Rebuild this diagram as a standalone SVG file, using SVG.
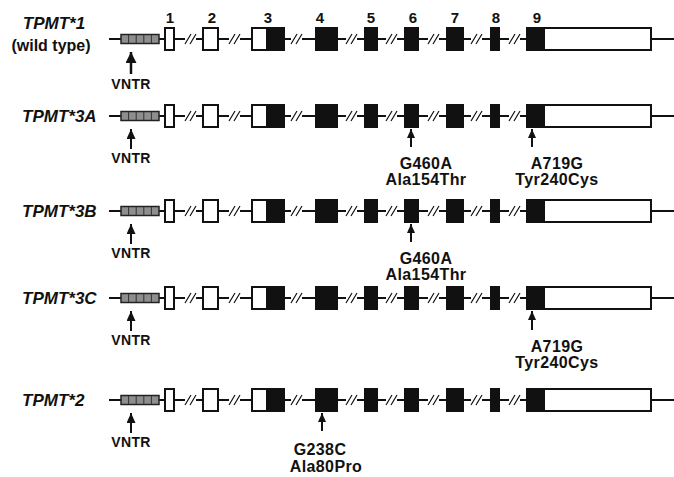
<svg xmlns="http://www.w3.org/2000/svg" xmlns:xlink="http://www.w3.org/1999/xlink" width="674" height="477" viewBox="0 0 674 477">
<style>
text{font-family:"Liberation Sans",Arial,sans-serif;font-weight:bold;fill:#111}
.lbl{font-size:17px;font-style:italic}
.wt{font-size:16px}
.num{font-size:15px;text-anchor:middle}
.vn{font-size:14px;text-anchor:middle;letter-spacing:0.3px}
.mut{font-size:16px;text-anchor:middle;letter-spacing:0.4px}
.bb{fill:none;stroke:#111;stroke-width:2}
.sl{fill:none;stroke:#111;stroke-width:1.2}
.wx{fill:#fff;stroke:#111;stroke-width:2}
.bx{fill:#111;stroke:#111;stroke-width:2}
.vntr{fill:#8e8e8e;stroke:#222;stroke-width:1.5}
.dv{stroke:#333;stroke-width:1}
.arr{stroke:#111;stroke-width:2;fill:none}
.arrb{stroke:#111;stroke-width:2.5;fill:none}
</style>
<defs>
<marker id="ahb" markerUnits="userSpaceOnUse" markerWidth="11" markerHeight="11" viewBox="0 0 10 10" refX="10" refY="5" orient="auto-start-reverse">
<path d="M0,0 L10,5 L0,10 Z" fill="#111"/>
</marker>
<marker id="ah" markerUnits="userSpaceOnUse" markerWidth="10" markerHeight="9" viewBox="0 0 10 10" refX="10" refY="5" orient="auto-start-reverse" preserveAspectRatio="none">
<path d="M0,0 L10,5 L0,10 Z" fill="#111"/>
</marker>
<marker id="ahs" markerUnits="userSpaceOnUse" markerWidth="9" markerHeight="8" viewBox="0 0 10 10" refX="10" refY="5" orient="auto-start-reverse" preserveAspectRatio="none">
<path d="M0,0 L10,5 L0,10 Z" fill="#111"/>
</marker>
<g id="gene">
<path class="bb" d="M109,0 H185 M196,0 H229 M240,0 H291 M302,0 H346 M357,0 H386 M397,0 H428 M439,0 H471 M482,0 H509 M520,0 H674"/>
<path class="sl" d="M185,5 L191,-5 M190,5 L196,-5 M229,5 L235,-5 M234,5 L240,-5 M291,5 L297,-5 M296,5 L302,-5 M346,5 L352,-5 M351,5 L357,-5 M386,5 L392,-5 M391,5 L397,-5 M428,5 L434,-5 M433,5 L439,-5 M471,5 L477,-5 M476,5 L482,-5 M509,5 L515,-5 M514,5 L520,-5"/>
<rect class="vntr" x="121" y="-4.5" width="38" height="9"/>
<path class="dv" d="M128.6,-4 V4 M136.2,-4 V4 M143.8,-4 V4 M151.4,-4 V4"/>
<rect class="wx" x="165" y="-11" width="9" height="22"/>
<rect class="wx" x="203" y="-11" width="15" height="22"/>
<rect class="wx" x="252" y="-11" width="32" height="22"/>
<rect class="bx" x="267" y="-11" width="17" height="22"/>
<rect class="bx" x="316" y="-11" width="21" height="22"/>
<rect class="bx" x="365" y="-11" width="12" height="22"/>
<rect class="bx" x="405" y="-11" width="13" height="22"/>
<rect class="bx" x="447" y="-11" width="16" height="22"/>
<rect class="bx" x="491" y="-11" width="8" height="22"/>
<rect class="wx" x="527" y="-11" width="124" height="22"/>
<rect class="bx" x="527" y="-11" width="17" height="22"/>
</g>
</defs>

<g id="exon-numbers">
<text class="num" x="170" y="23">1</text>
<text class="num" x="212" y="23">2</text>
<text class="num" x="268" y="23">3</text>
<text class="num" x="320" y="23">4</text>
<text class="num" x="371" y="23">5</text>
<text class="num" x="413" y="23">6</text>
<text class="num" x="455" y="23">7</text>
<text class="num" x="496" y="23">8</text>
<text class="num" x="537" y="23">9</text>
</g>

<g id="row-tpmt1">
<text class="lbl" x="54" y="29" text-anchor="middle">TPMT*1</text>
<text class="wt" x="51" y="51" text-anchor="middle">(wild type)</text>
<use xlink:href="#gene" transform="translate(0,39)"/>
</g>
<g id="row-tpmt3a">
<text class="lbl" x="22" y="122">TPMT*3A</text>
<use xlink:href="#gene" transform="translate(0,116)"/>
</g>
<g id="row-tpmt3b">
<text class="lbl" x="22" y="217">TPMT*3B</text>
<use xlink:href="#gene" transform="translate(0,211)"/>
</g>
<g id="row-tpmt3c">
<text class="lbl" x="22" y="304">TPMT*3C</text>
<use xlink:href="#gene" transform="translate(0,298)"/>
</g>
<g id="row-tpmt2">
<text class="lbl" x="22" y="406">TPMT*2</text>
<use xlink:href="#gene" transform="translate(0,400)"/>
</g>

<g id="labels">
<text class="vn" x="131" y="89">VNTR</text>
<text class="vn" x="131" y="163">VNTR</text>
<text class="mut" x="426" y="169">G460A</text>
<text class="mut" x="426" y="185">Ala154Thr</text>
<text class="mut" x="557" y="169">A719G</text>
<text class="mut" x="557" y="185">Tyr240Cys</text>
<text class="vn" x="131" y="258">VNTR</text>
<text class="mut" x="426" y="264">G460A</text>
<text class="mut" x="426" y="280">Ala154Thr</text>
<text class="vn" x="131" y="345">VNTR</text>
<text class="mut" x="557" y="352">A719G</text>
<text class="mut" x="557" y="368">Tyr240Cys</text>
<text class="vn" x="131" y="447">VNTR</text>
<text class="mut" x="320" y="455">G238C</text>
<text class="mut" x="326" y="472">Ala80Pro</text>
</g>

<g id="connectors">
<path class="arrb" marker-start="url(#ahb)" d="M131,52 V74"/>
<path class="arr" marker-start="url(#ah)" d="M131,129 V149"/>
<path class="arr" marker-start="url(#ahs)" d="M411,129 V147"/>
<path class="arr" marker-start="url(#ahs)" d="M532,129 V147"/>
<path class="arr" marker-start="url(#ah)" d="M131,224 V244"/>
<path class="arr" marker-start="url(#ahs)" d="M411,224 V242"/>
<path class="arr" marker-start="url(#ah)" d="M131,311 V331"/>
<path class="arr" marker-start="url(#ahs)" d="M532,311 V330"/>
<path class="arr" marker-start="url(#ah)" d="M131,413 V433"/>
<path class="arr" marker-start="url(#ahs)" d="M322,413 V431"/>
</g>
</svg>
